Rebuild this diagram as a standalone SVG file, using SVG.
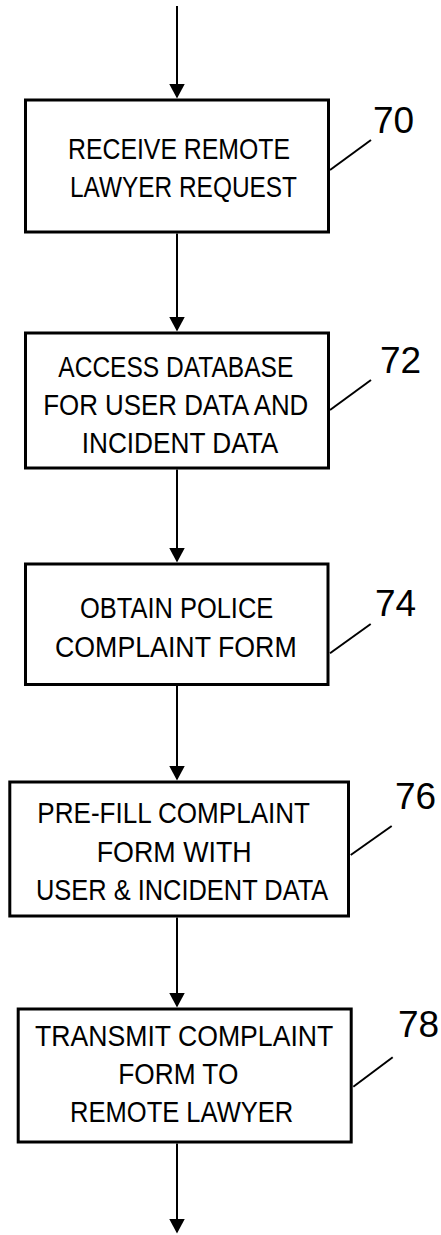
<svg xmlns="http://www.w3.org/2000/svg" width="441" height="1235" viewBox="0 0 441 1235">
  <style>
    .box { fill: #ffffff; stroke: #000000; stroke-width: 3; }
    .txt { font-family: "Liberation Sans", Arial, sans-serif; font-size: 29px; fill: #000000; }
    .ref { font-family: "Liberation Sans", Arial, sans-serif; font-size: 37px; fill: #000000; }
    .lead { stroke: #000000; stroke-width: 2; fill: none; }
    .flow { stroke: #000000; stroke-width: 2; fill: none; marker-end: url(#arrow); }
  </style>
  <defs>
    <marker id="arrow" markerUnits="userSpaceOnUse" markerWidth="16" markerHeight="16" refX="13" refY="8" orient="auto">
      <path d="M0,0 L15,8 L0,16 Z" fill="#000000"/>
    </marker>
  </defs>
  <rect width="441" height="1235" fill="#ffffff"/>

  <!-- flow connectors -->
  <g id="connectors">
    <line class="flow" x1="177" y1="6" x2="177" y2="96.5"/>
    <line class="flow" x1="177" y1="233.5" x2="177" y2="329.5"/>
    <line class="flow" x1="177" y1="469.5" x2="177" y2="560.5"/>
    <line class="flow" x1="177" y1="686" x2="177" y2="778.5"/>
    <line class="flow" x1="177" y1="917.5" x2="177" y2="1005.5"/>
    <line class="flow" x1="177" y1="1143.5" x2="177" y2="1231.5"/>
  </g>

  <!-- step 70 -->
  <g id="step70">
    <rect class="box" x="25.5" y="100" width="303" height="132"/>
    <text class="txt" x="68" y="159.3" textLength="222" lengthAdjust="spacingAndGlyphs">RECEIVE REMOTE</text>
    <text class="txt" x="70" y="196.7" textLength="227" lengthAdjust="spacingAndGlyphs">LAWYER REQUEST</text>
    <line class="lead" x1="330" y1="170" x2="371" y2="140"/>
    <text class="ref" x="373" y="133.3">70</text>
  </g>

  <!-- step 72 -->
  <g id="step72">
    <rect class="box" x="25.5" y="333" width="303" height="135"/>
    <text class="txt" x="58.3" y="376.7" textLength="235" lengthAdjust="spacingAndGlyphs">ACCESS DATABASE</text>
    <text class="txt" x="43.3" y="415" textLength="265" lengthAdjust="spacingAndGlyphs">FOR USER DATA AND</text>
    <text class="txt" x="81.7" y="452.7" textLength="196.6" lengthAdjust="spacingAndGlyphs">INCIDENT DATA</text>
    <line class="lead" x1="330" y1="410" x2="371" y2="380"/>
    <text class="ref" x="380" y="372.7">72</text>
  </g>

  <!-- step 74 -->
  <g id="step74">
    <rect class="box" x="25.5" y="564" width="302.5" height="120.5"/>
    <text class="txt" x="80" y="618.3" textLength="193.3" lengthAdjust="spacingAndGlyphs">OBTAIN POLICE</text>
    <text class="txt" x="55" y="656.7" textLength="241.7" lengthAdjust="spacingAndGlyphs">COMPLAINT FORM</text>
    <line class="lead" x1="330" y1="653.3" x2="370.7" y2="624"/>
    <text class="ref" x="375" y="616">74</text>
  </g>

  <!-- step 76 -->
  <g id="step76">
    <rect class="box" x="9.8" y="782" width="338.7" height="134"/>
    <text class="txt" x="37.3" y="823.3" textLength="272.7" lengthAdjust="spacingAndGlyphs">PRE-FILL COMPLAINT</text>
    <text class="txt" x="96.7" y="861.7" textLength="155" lengthAdjust="spacingAndGlyphs">FORM WITH</text>
    <text class="txt" x="36" y="900" textLength="292.3" lengthAdjust="spacingAndGlyphs">USER &amp; INCIDENT DATA</text>
    <line class="lead" x1="350.7" y1="855" x2="391.7" y2="826"/>
    <text class="ref" x="395" y="809.3">76</text>
  </g>

  <!-- step 78 -->
  <g id="step78">
    <rect class="box" x="18.2" y="1009" width="333" height="133"/>
    <text class="txt" x="35" y="1046" textLength="298.3" lengthAdjust="spacingAndGlyphs">TRANSMIT COMPLAINT</text>
    <text class="txt" x="118.3" y="1084.3" textLength="120" lengthAdjust="spacingAndGlyphs">FORM TO</text>
    <text class="txt" x="70" y="1122.3" textLength="223.3" lengthAdjust="spacingAndGlyphs">REMOTE LAWYER</text>
    <line class="lead" x1="353.3" y1="1086.7" x2="392.7" y2="1057.3"/>
    <text class="ref" x="398" y="1036.7">78</text>
  </g>
</svg>
